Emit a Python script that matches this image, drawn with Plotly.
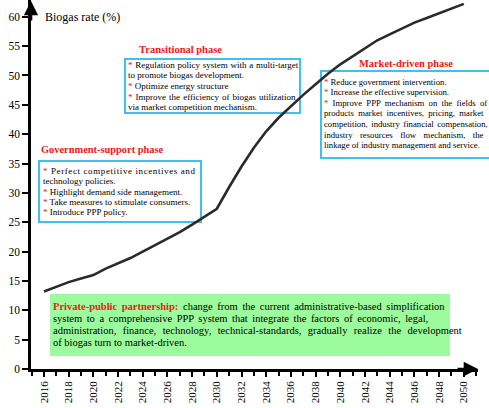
import plotly.graph_objects as go

# Projected biogas rate (%) by year
years = list(range(2016, 2051))
biogas_rate = [
    13.2, 14.0, 14.8, 15.4, 16.0,            # 2016-2020
    17.1, 18.0, 18.9, 20.0, 21.1,            # 2021-2025
    22.2, 23.3, 24.6, 25.9, 27.3,            # 2026-2030
    31.0, 34.5, 37.7, 40.5, 42.8,            # 2031-2035
    44.8, 46.7, 48.5, 50.3, 51.9,            # 2036-2040
    53.3, 54.7, 56.0, 57.0, 58.0,            # 2041-2045
    59.0, 59.8, 60.6, 61.4, 62.2,            # 2046-2050
]

x_tick_years = list(range(2016, 2051, 2))
x_tick_labels = [str(y) for y in x_tick_years]
y_tick_values = list(range(0, 61, 5))
y_tick_labels = [str(v) for v in y_tick_values]

y_title = "Biogas rate (%)"

transitional_title = "Transitional phase"
transitional_lines = [
    "* Regulation policy system with a multi-target",
    "to promote biogas development.",
    "* Optimize energy structure",
    "* Improve the efficiency of biogas utilization",
    "via market competition mechanism.",
]

government_title = "Government-support phase"
government_lines = [
    "* Perfect competitive incentives and",
    "technology policies.",
    "* Highlight demand side management.",
    "* Take measures to stimulate consumers.",
    "* Introduce PPP policy.",
]

market_title = "Market-driven phase"
market_lines = [
    "* Reduce government intervention.",
    "* Increase the effective supervision.",
    "* Improve PPP mechanism on the fields of",
    "products market incentives, pricing, market",
    "competition, industry financial compensation,",
    "industry resources flow mechanism, the",
    "linkage of industry management and service.",
]

ppp_head = "Private-public partnership:"
ppp_lines = [
    " change from the current administrative-based simplification",
    "system to a comprehensive PPP system that integrate the factors of economic, legal,",
    "administration, finance, technology, technical-standards, gradually realize the development",
    "of biogas turn to market-driven.",
]

W, H = 489, 408
L, R, T, B = 31, 478, 0, 369
SERIF = "Liberation Serif, Times New Roman, serif"
RED = "#f01818"
BLUE = "#3fc0ee"
GREEN = "#9cfb9c"


def px(x):
    return (x - L) / (R - L)


def py(y):
    return (B - y) / (B - T)


fig = go.Figure()
fig.add_trace(go.Scatter(
    x=years, y=biogas_rate, mode="lines",
    line=dict(color="#2a2a2a", width=2.6),
    hoverinfo="skip", showlegend=False,
))

shapes = []
annotations = []


def box(x0, y0, x1, y1, line=None, fill=None):
    shapes.append(dict(
        type="rect", xref="paper", yref="paper",
        x0=px(x0), x1=px(x1), y0=py(y1), y1=py(y0),
        line=dict(color=line or "rgba(0,0,0,0)", width=2 if line else 0),
        fillcolor=fill or "rgba(0,0,0,0)", layer="below",
    ))


def text(x, y, s, size, color="black", anchor="left"):
    annotations.append(dict(
        xref="paper", yref="paper", x=px(x), y=py(y), text=s,
        showarrow=False, xanchor=anchor, yanchor="middle",
        font=dict(family=SERIF, size=size, color=color), borderpad=0,
    ))


def spaced(s, word=0.0, letter=0.0):
    # stretch a line of a justified paragraph
    if not word and not letter:
        return s
    return "<span style='word-spacing:%.1fpx;letter-spacing:%.2fpx'>%s</span>" % (word, letter, s)


def bullet(s):
    if s.startswith("*"):
        return "<span style='color:%s'>*</span>%s" % (RED, s[1:])
    return s


# Phase boxes
box(125, 59, 300, 113, line=BLUE)
text(180, 50, "<b>%s</b>" % transitional_title, 10.5, RED, "center")
trans_spacing = [0.5, 0, 0, 0.8, 0]
for i, s in enumerate(transitional_lines):
    text(127, 64.5 + i * 10.75, spaced(bullet(s), trans_spacing[i]), 9)

box(39, 161, 201, 222, line=BLUE)
text(40, 149, "<b>%s</b>" % government_title, 10.4, RED)
gov_letter = [0.6, 0, 0, 0, 0]
for i, s in enumerate(government_lines):
    text(42, 171 + i * 10.3, spaced(bullet(s), 0, gov_letter[i]), 9)

box(321, 71, 520, 158, line=BLUE)
text(406, 63, "<b>%s</b>" % market_title, 10.4, RED, "center")
market_spacing = [0, 0, 2.1, 2.1, 1.4, 5.3, 0]
for i, s in enumerate(market_lines):
    text(323, 82 + i * 10.5, spaced(bullet(s), market_spacing[i]), 8.7)

# Public-private partnership summary
box(50, 294, 450, 356, fill=GREEN)
ppp_spacing = [2.0, 1.9, 3.8, 0]
for i, s in enumerate(ppp_lines):
    if i == 0:
        s = "<b><span style='color:%s'>%s</span></b>%s" % (RED, ppp_head, s)
    text(52, 306 + i * 12.3, spaced(s, ppp_spacing[i]), 10.5)

# Axis title
text(44, 17, y_title, 12)

# Axis arrowheads
annotations.append(dict(
    xref="paper", yref="paper", x=0, y=1.0, ax=0, ay=22,
    axref="pixel", ayref="pixel", text="", showarrow=True,
    arrowhead=2, arrowsize=1.1, arrowwidth=2.6, arrowcolor="black", standoff=0,
))
annotations.append(dict(
    xref="paper", yref="paper", x=1.0, y=0, ax=-22, ay=0,
    axref="pixel", ayref="pixel", text="", showarrow=True,
    arrowhead=2, arrowsize=1.1, arrowwidth=2.6, arrowcolor="black", standoff=0,
))

fig.update_layout(
    width=W, height=H,
    margin=dict(l=L, r=W - R, t=T, b=H - B),
    paper_bgcolor="white", plot_bgcolor="white",
    shapes=shapes, annotations=annotations,
    xaxis=dict(
        range=[2014.95, 2051.15],
        tickvals=x_tick_years, ticktext=x_tick_labels,
        tickangle=-90, ticks="outside", ticklen=5, tickwidth=2,
        tickcolor="black", showgrid=False, zeroline=False,
        showline=True, linecolor="black", linewidth=2.6,
        tickfont=dict(family=SERIF, size=11, color="black"),
        minor=dict(dtick=1, tick0=2016, ticks="outside", ticklen=4,
                   tickwidth=2, tickcolor="black", showgrid=False),
    ),
    yaxis=dict(
        range=[0, 62.86],
        tickvals=y_tick_values, ticktext=y_tick_labels,
        ticks="outside", ticklen=6, tickwidth=2, tickcolor="black",
        showgrid=False, zeroline=False,
        showline=True, linecolor="black", linewidth=2.6,
        tickfont=dict(family=SERIF, size=11.5, color="black"),
    ),
)

fig.write_html("out.html")
